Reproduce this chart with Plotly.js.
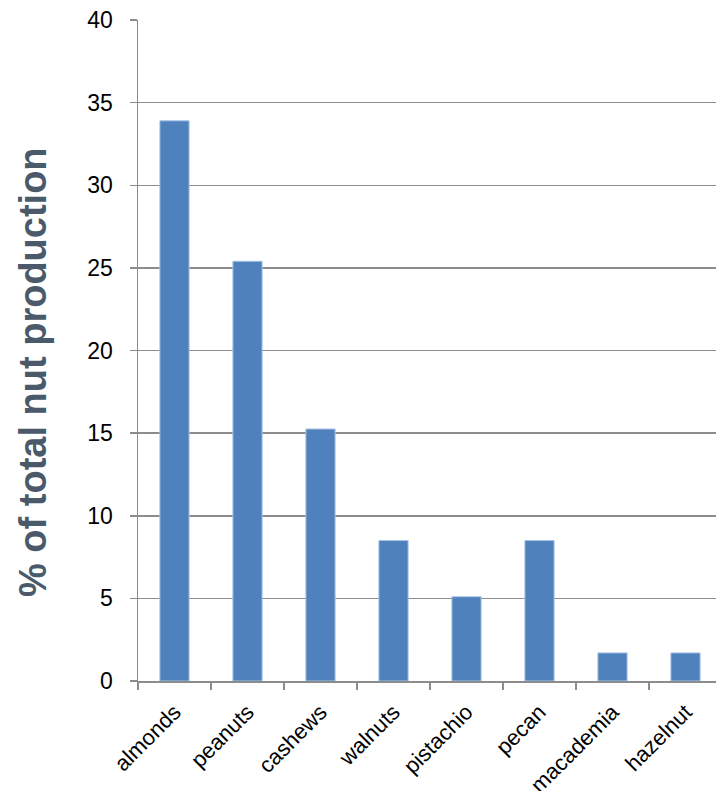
<!DOCTYPE html>
<html>
<head>
<meta charset="utf-8">
<script src="https://cdn.plot.ly/plotly-3.0.1.min.js"></script>
<style>
html,body{margin:0;padding:0;overflow:hidden;background:#fff;}
#chart{width:730px;height:791px;}
</style>
</head>
<body>
<div id="chart"></div>
<script>
const categories = ["almonds","peanuts","cashews","walnuts","pistachio","pecan","macademia","hazelnut"];
const values = [33.9, 25.4, 15.25, 8.5, 5.1, 8.5, 1.7, 1.7];
const yTitle = "% of total nut production";

const trace = {
  type: "bar",
  x: categories,
  y: values,
  marker: {color: "#4F81BD", line: {color: "#A9C4E6", width: 1}},
  hoverinfo: "x+y"
};

const W = 730, H = 791;
const M = {l: 138, r: 8, t: 20, b: 110};
const pw = W - M.l - M.r, ph = H - M.t - M.b;

const layout = {
  width: W,
  height: H,
  margin: M,
  paper_bgcolor: "#fff",
  plot_bgcolor: "#fff",
  bargap: 0.6,
  showlegend: false,
  font: {family: "Liberation Sans, Arial, sans-serif", color: "#000"},
  xaxis: {
    type: "category",
    showline: true,
    linecolor: "#8C8C8C",
    linewidth: 1.5,
    ticks: "outside",
    tickson: "boundaries",
    ticklen: 7,
    tickcolor: "#8C8C8C",
    tickwidth: 1.5,
    tickangle: -45,
    ticklabelstandoff: 8,
    tickfont: {size: 22, family: "Liberation Sans, Arial, sans-serif", color: "#000"},
    showgrid: false,
    automargin: false
  },
  yaxis: {
    range: [0, 40],
    dtick: 5,
    tick0: 0,
    showline: true,
    linecolor: "#8C8C8C",
    linewidth: 1.5,
    ticks: "outside",
    ticklen: 7,
    tickcolor: "#8C8C8C",
    tickwidth: 1.5,
    showgrid: true,
    gridcolor: "#8C8C8C",
    gridwidth: 1.5,
    zeroline: false,
    ticklabelstandoff: 12,
    automargin: false,
    tickfont: {size: 23, family: "Liberation Sans, Arial, sans-serif", color: "#000"}
  },
  annotations: [{
    text: yTitle,
    xref: "paper", yref: "paper",
    x: (33 - M.l) / pw,
    y: (H - M.b - 372) / ph,
    xanchor: "center", yanchor: "middle",
    textangle: -90,
    showarrow: false,
    font: {size: 38, family: "Liberation Sans, Arial, sans-serif", color: "#4A5A6B", weight: "bold"}
  }]
};

Plotly.newPlot("chart", [trace], layout, {displayModeBar: false, staticPlot: true});
</script>
</body>
</html>
